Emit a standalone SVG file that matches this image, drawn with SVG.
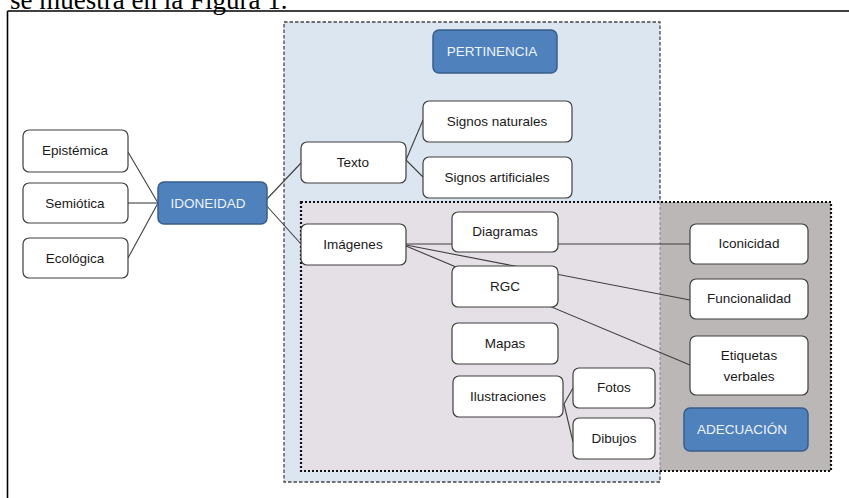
<svg xmlns="http://www.w3.org/2000/svg" width="849" height="498" viewBox="0 0 849 498">
<defs>
<style>
.node rect{fill:#fff;stroke:#3f3f3f;stroke-width:1.2}
.node text{font-family:"Liberation Sans",Arial,sans-serif;font-size:13.5px;fill:#1a1a1a;text-anchor:middle}
.hub rect{fill:#4f81bd;stroke:#385d8a;stroke-width:1.5}
.hub text{font-family:"Liberation Sans",Arial,sans-serif;font-size:13.5px;fill:#eef3fa;text-anchor:middle}
#connectors line{stroke:#3f3f3f;stroke-width:1.1}
</style>
</defs>
<rect width="849" height="498" fill="#fff"/>
<text x="10" y="9" font-family="Liberation Serif,'Times New Roman',serif" font-size="27" fill="#000">se muestra en la Figura 1.</text>
<g id="frame" stroke="#000" stroke-width="1.6" fill="none">
<line x1="7.5" y1="11" x2="849" y2="11"/>
<line x1="7.5" y1="11" x2="7.5" y2="498"/>
</g>
<g id="regions">
<rect x="284" y="22" width="376" height="460" fill="#dce6f1" stroke="#444" stroke-width="1.3" stroke-dasharray="3.5,2"/>
<rect x="301" y="202" width="359" height="269" fill="#e5dfe6"/>
<rect x="660" y="202" width="171" height="269" fill="#bbb7b6"/>
<line x1="660" y1="202" x2="660" y2="471" stroke="#888" stroke-width="1" stroke-dasharray="3,2"/>
<rect x="301" y="202" width="530" height="269" fill="none" stroke="#111" stroke-width="2.2" stroke-dasharray="2,2"/>
</g>
<g id="connectors">
<line x1="128" y1="152" x2="158" y2="203"/>
<line x1="128" y1="203" x2="158" y2="203"/>
<line x1="128" y1="258" x2="158" y2="203"/>
<line x1="265" y1="201" x2="301" y2="163"/>
<line x1="265" y1="204" x2="301" y2="244"/>
<line x1="406" y1="160" x2="423" y2="120"/>
<line x1="406" y1="160" x2="423" y2="177"/>
<line x1="406" y1="244" x2="690" y2="244"/>
<line x1="406" y1="245" x2="690" y2="300"/>
<line x1="406" y1="246" x2="690" y2="365"/>
<line x1="564" y1="404" x2="573" y2="388"/>
<line x1="564" y1="404" x2="573" y2="442"/>
</g>
<g id="pertinencia" class="hub"><rect x="433" y="30" width="124" height="43" rx="6"/><text x="492" y="56">PERTINENCIA</text></g>
<g id="adecuacion" class="hub"><rect x="684" y="408" width="124" height="43" rx="6"/><text x="742" y="434">ADECUACIÓN</text></g>
<g id="idoneidad" class="hub"><rect x="158" y="182" width="109" height="42" rx="6"/><text x="208" y="208">IDONEIDAD</text></g>
<g id="epistemica" class="node"><rect x="23" y="130" width="105" height="42" rx="6"/><text x="75" y="155">Epistémica</text></g>
<g id="semiotica" class="node"><rect x="23" y="183" width="105" height="40" rx="6"/><text x="75" y="208">Semiótica</text></g>
<g id="ecologica" class="node"><rect x="23" y="238" width="105" height="40" rx="6"/><text x="75" y="263">Ecológica</text></g>
<g id="texto" class="node"><rect x="301" y="142" width="105" height="41" rx="6"/><text x="353" y="167">Texto</text></g>
<g id="imagenes" class="node"><rect x="301" y="224" width="105" height="41" rx="6"/><text x="353" y="249">Imágenes</text></g>
<g id="signos-naturales" class="node"><rect x="423" y="101" width="149" height="41" rx="6"/><text x="497" y="126">Signos naturales</text></g>
<g id="signos-artificiales" class="node"><rect x="423" y="157" width="149" height="41" rx="6"/><text x="497" y="182">Signos artificiales</text></g>
<g id="diagramas" class="node"><rect x="452" y="212" width="106" height="40" rx="6"/><text x="505" y="236">Diagramas</text></g>
<g id="rgc" class="node"><rect x="452" y="266" width="106" height="41" rx="6"/><text x="505" y="291">RGC</text></g>
<g id="mapas" class="node"><rect x="452" y="323" width="106" height="41" rx="6"/><text x="505" y="348">Mapas</text></g>
<g id="ilustraciones" class="node"><rect x="453" y="376" width="110" height="41" rx="6"/><text x="508" y="401">Ilustraciones</text></g>
<g id="fotos" class="node"><rect x="573" y="368" width="82" height="40" rx="6"/><text x="614" y="392">Fotos</text></g>
<g id="dibujos" class="node"><rect x="573" y="418" width="82" height="41" rx="6"/><text x="614" y="443">Dibujos</text></g>
<g id="iconicidad" class="node"><rect x="690" y="224" width="118" height="40" rx="6"/><text x="749" y="248">Iconicidad</text></g>
<g id="funcionalidad" class="node"><rect x="690" y="279" width="118" height="40" rx="6"/><text x="749" y="303">Funcionalidad</text></g>
<g id="etiquetas" class="node"><rect x="690" y="336" width="118" height="59" rx="6"/><text x="749" y="360">Etiquetas</text><text x="749" y="381">verbales</text></g>
</svg>
